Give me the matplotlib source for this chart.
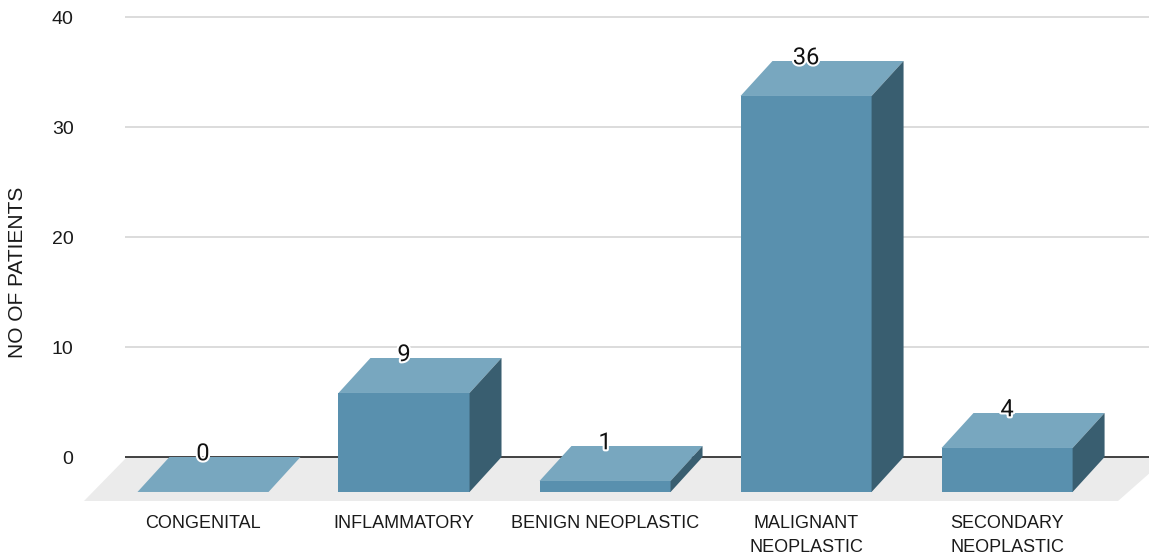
import numpy as np
import matplotlib
matplotlib.use("Agg")
import matplotlib.pyplot as plt
import matplotlib.patheffects as pe
from matplotlib.patches import Polygon

categories = ["CONGENITAL", "INFLAMMATORY", "BENIGN NEOPLASTIC",
              "MALIGNANT\nNEOPLASTIC", "SECONDARY\nNEOPLASTIC"]
patients = [0, 9, 1, 36, 4]
yticks = [0, 10, 20, 30, 40]

front_col = "#5990ae"
top_col = "#78a7bf"
side_col = "#395e70"
floor_col = "#ebebeb"
grid_col = "#d9d9d9"

# bar geometry (x in category units, y in data units)
width = 0.652
dx = 0.159
dy = 3.18

fig = plt.figure(figsize=(11.49, 5.56), dpi=100)
ax = fig.add_axes([125 / 1149, 55 / 556, 1 - 125 / 1149, 495 / 556])
ax.set_xlim(-0.388, 4.706)
ax.set_ylim(-4, 41)
for s in ax.spines.values():
    s.set_visible(False)

# floor of the 3d box
floor = Polygon([(-0.378, 0), (4.80, 0), (4.552, -4), (-0.592, -4)],
                closed=True, facecolor=floor_col, edgecolor="none",
                clip_on=False, zorder=1)
ax.add_patch(floor)

for t in yticks[1:]:
    ax.axhline(t, color=grid_col, lw=1.3, zorder=1.5)
ax.axhline(0, color="#333333", lw=1.3, zorder=2)

for i, v in enumerate(patients):
    x0 = i - width / 2
    x1 = i + width / 2
    yb = -dy
    yt = v - dy
    front = Polygon([(x0, yb), (x1, yb), (x1, yt), (x0, yt)],
                    facecolor=front_col, edgecolor="none", zorder=3)
    top = Polygon([(x0, yt), (x1, yt), (x1 + dx, v), (x0 + dx, v)],
                  facecolor=top_col, edgecolor="none", zorder=3)
    side = Polygon([(x1, yb), (x1 + dx, 0), (x1 + dx, v), (x1, yt)],
                   facecolor=side_col, edgecolor="none", zorder=3)
    for p in (front, top, side):
        ax.add_patch(p)
    ax.text(i, v - 0.3, str(v), ha="center", va="baseline",
            fontsize=17, family="Roboto", color="#111111", zorder=5,
            path_effects=[pe.withStroke(linewidth=3, foreground="white")])

ax.set_yticks(yticks)
ax.set_yticklabels([str(t) for t in yticks], family="Liberation Sans",
                   fontsize=14, color="#1a1a1a")
ax.set_xticks(range(len(categories)))
ax.set_xticklabels(categories, family="Liberation Sans", fontsize=13,
                   color="#1a1a1a", linespacing=1.53)
ax.tick_params(axis="y", length=0, pad=37)
ax.tick_params(axis="x", length=0, pad=10)

fig.text(18 / 1149, 1 - 272 / 556, "NO OF PATIENTS", rotation=90,
         ha="center", va="center", family="Liberation Sans", fontsize=15,
         color="#1a1a1a")

fig.savefig("out.png", dpi=100)
